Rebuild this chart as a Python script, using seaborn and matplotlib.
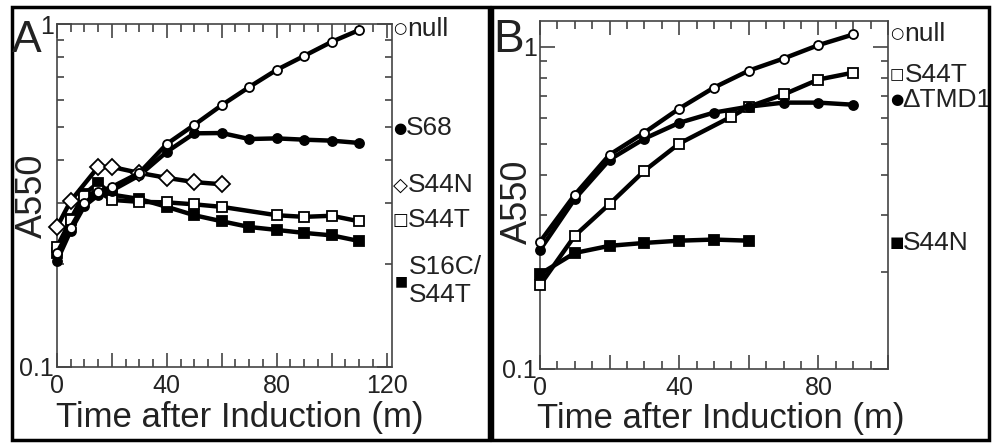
import matplotlib
matplotlib.use("Agg")
import matplotlib.pyplot as plt
import matplotlib.transforms as mtransforms
from matplotlib.patches import Rectangle
from matplotlib.ticker import MultipleLocator, FuncFormatter, FixedLocator, NullFormatter
import seaborn as sns

# ---- panel A data (time in min, A550) ----
a_null_t = [0, 5, 10, 15, 20, 30, 40, 50, 60, 70, 80, 90, 100, 110]
a_null = [0.215, 0.255, 0.30, 0.324, 0.335, 0.368, 0.447, 0.508, 0.58, 0.655, 0.735, 0.807, 0.887, 0.96]

a_s68_t = [0, 5, 10, 15, 20, 30, 40, 50, 60, 70, 80, 90, 100, 110]
a_s68 = [0.204, 0.25, 0.295, 0.317, 0.327, 0.362, 0.424, 0.48, 0.481, 0.462, 0.464, 0.46, 0.457, 0.45]

a_s44n_t = [0, 5, 15, 20, 30, 40, 50, 60]
a_s44n = [0.256, 0.305, 0.383, 0.383, 0.368, 0.356, 0.346, 0.341]

a_s44t_t = [0, 5, 10, 15, 20, 30, 40, 50, 60, 80, 90, 100, 110]
a_s44t = [0.224, 0.268, 0.316, 0.325, 0.307, 0.303, 0.302, 0.298, 0.293, 0.277, 0.274, 0.276, 0.266]

a_s16c_t = [0, 5, 10, 15, 20, 30, 40, 50, 60, 70, 80, 90, 100, 110]
a_s16c = [0.215, 0.27, 0.32, 0.344, 0.318, 0.309, 0.293, 0.277, 0.266, 0.256, 0.251, 0.246, 0.242, 0.233]

# ---- panel B data ----
b_null_t = [0, 10, 20, 30, 40, 50, 60, 70, 80, 90]
b_null = [0.248, 0.347, 0.462, 0.541, 0.642, 0.746, 0.842, 0.918, 1.01, 1.09]

b_s44t_t = [0, 10, 20, 30, 40, 55, 60, 70, 80, 90]
b_s44t = [0.182, 0.259, 0.325, 0.412, 0.50, 0.606, 0.651, 0.71, 0.79, 0.83]

b_tmd_t = [0, 10, 20, 30, 40, 50, 60, 70, 80, 90]
b_tmd = [0.234, 0.337, 0.446, 0.518, 0.58, 0.624, 0.651, 0.67, 0.67, 0.66]

b_s44n_t = [0, 10, 20, 30, 40, 50, 60]
b_s44n = [0.197, 0.229, 0.241, 0.246, 0.250, 0.252, 0.250]

sns.set_theme(style="ticks")
plt.rcParams['font.family'] = ['Liberation Sans', 'DejaVu Sans']

W, H = 992, 443
fig = plt.figure(figsize=(W / 100, H / 100), dpi=100)

axA = fig.add_axes([57 / W, (H - 367) / H, 335 / W, 343 / H])
axB = fig.add_axes([540 / W, (H - 369) / H, 348 / W, 348 / H])

GREY = "#444444"


def draw_series(ax, t, v, marker, face, ms):
    sns.lineplot(x=t, y=v, ax=ax, color="black", linewidth=3.2, marker=marker,
                 markersize=ms, markerfacecolor=face, markeredgecolor="black",
                 markeredgewidth=1.3, clip_on=False, zorder=3)


def style_axis(ax, xmax, ymax):
    ax.set_yscale("log")
    ax.set_xlim(0, xmax)
    ax.set_ylim(0.1, ymax)
    ax.xaxis.set_major_locator(MultipleLocator(20))
    ax.xaxis.set_minor_locator(MultipleLocator(5))
    ax.xaxis.set_major_formatter(FuncFormatter(lambda x, p: f"{int(x)}" if int(x) % 40 == 0 else ""))
    ax.yaxis.set_major_locator(FixedLocator([0.1, 1]))
    ax.yaxis.set_major_formatter(FuncFormatter(lambda y, p: "0.1" if y < 0.5 else "1"))
    ax.yaxis.set_minor_locator(FixedLocator([0.2, 0.3, 0.4, 0.5, 0.6, 0.7, 0.8, 0.9]))
    ax.yaxis.set_minor_formatter(NullFormatter())
    ax.tick_params(which="both", direction="in", top=True, right=True,
                   color=GREY, width=1.2, labelsize=18, labelcolor="#222222")
    ax.tick_params(axis="x", which="major", length=10, pad=5)
    ax.tick_params(axis="x", which="minor", length=5.5)
    ax.tick_params(axis="y", which="major", length=11, pad=2)
    ax.tick_params(axis="y", which="minor", length=5)
    for s in ax.spines.values():
        s.set_color(GREY)
        s.set_linewidth(1.2)
    ax.set_xlabel("Time after Induction (m)", fontsize=25, color="#222222")
    ax.set_ylabel("A550", fontsize=26, color="#222222")
    ax.grid(False)


def side_label(ax, y, sym, sym_size, text, xs, xt):
    trans = mtransforms.blended_transform_factory(ax.transAxes, ax.transData)
    ax.text(xs, y, sym, transform=trans, ha="center", va="center",
            fontsize=sym_size, family="DejaVu Sans", color="black", clip_on=False)
    ax.text(xt, y, text, transform=trans, ha="left", va="center",
            fontsize=19, color="#222222", linespacing=1.25, clip_on=False)


# panel A
draw_series(axA, a_s16c_t, a_s16c, "s", "black", 6.5)
draw_series(axA, a_s44t_t, a_s44t, "s", "white", 6.5)
draw_series(axA, a_s68_t, a_s68, "o", "black", 6.5)
draw_series(axA, a_s44n_t, a_s44n, "D", "white", 8)
draw_series(axA, a_null_t, a_null, "o", "white", 6.5)
style_axis(axA, 122, 1.0)
axA.xaxis.set_label_coords(0.547, -0.1)
axA.yaxis.set_label_coords(-0.02, 0.5)

side_label(axA, 0.968, "○", 11, "null", 1.024, 1.045)
side_label(axA, 0.497, "●", 11, "S68", 1.024, 1.042)
side_label(axA, 0.339, "◇", 14, "S44N", 1.024, 1.048)
side_label(axA, 0.268, "□", 12, "S44T", 1.024, 1.048)
side_label(axA, 0.178, "■", 10, "S16C/\nS44T", 1.027, 1.05)

# panel B
draw_series(axB, b_s44n_t, b_s44n, "s", "black", 6.5)
draw_series(axB, b_s44t_t, b_s44t, "s", "white", 6.5)
draw_series(axB, b_tmd_t, b_tmd, "o", "black", 6.5)
draw_series(axB, b_null_t, b_null, "o", "white", 6.5)
style_axis(axB, 100, 1.2)
axB.xaxis.set_label_coords(0.52, -0.095)
axB.yaxis.set_label_coords(-0.014, 0.48)

side_label(axB, 1.097, "○", 11, "null", 1.026, 1.046)
side_label(axB, 0.818, "□", 11, "S44T", 1.024, 1.048)
side_label(axB, 0.684, "●", 11, "ΔTMD1", 1.025, 1.042)
side_label(axB, 0.246, "■", 11, "S44N", 1.024, 1.044)

# panel frames and letters
fig.add_artist(Rectangle((12 / W, 3 / H), 477 / W, 433 / H, transform=fig.transFigure,
                         fill=False, lw=2.5, ec="black"))
fig.add_artist(Rectangle((492 / W, 3 / H), 497 / W, 433 / H, transform=fig.transFigure,
                         fill=False, lw=2.5, ec="black"))
fig.text(12 / W, (H - 52) / H, "A", fontsize=32, color="#222222", va="baseline")
fig.text(493 / W, (H - 52) / H, "B", fontsize=33, color="#222222", va="baseline")

fig.savefig("out.png", dpi=100)
